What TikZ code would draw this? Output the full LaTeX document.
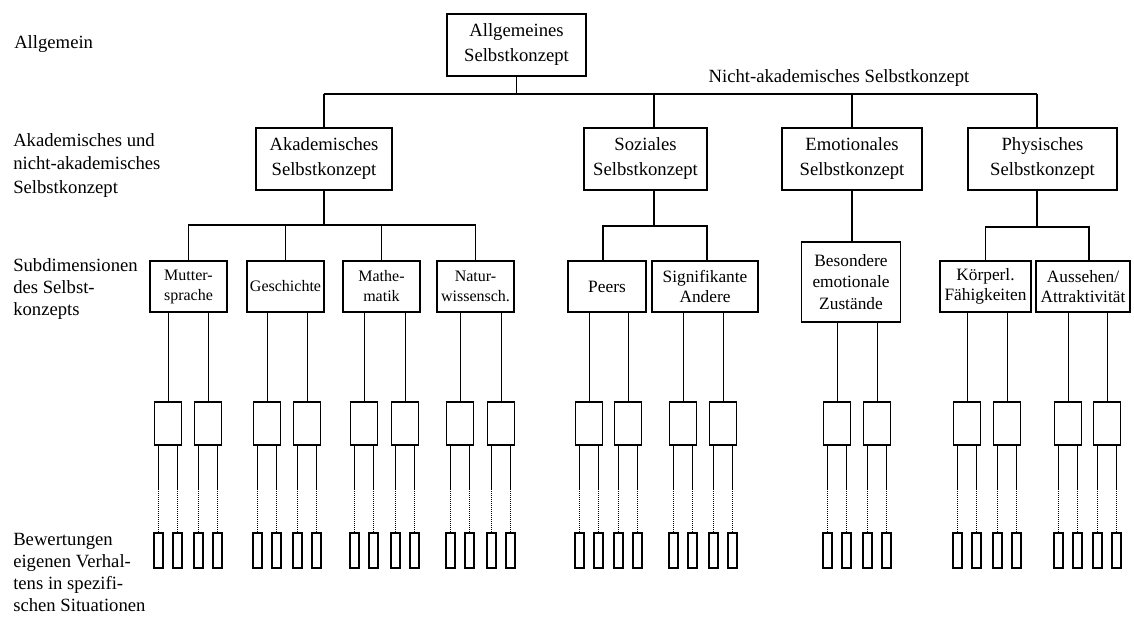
\documentclass[tikz,border=0pt]{standalone}
\usepackage{fontspec}
\setmainfont{Liberation Serif}
\begin{document}
\begin{tikzpicture}[x=0.75pt,y=-0.75pt,
  box/.style={draw,line width=1pt,inner sep=0pt,align=center,font=\fontsize{14}{18.75}\selectfont},
  topbox/.style={box,minimum height=46.5pt},
  subA/.style={box,minimum height=38.25pt,minimum width=57.75pt,font=\fontsize{12}{15}\selectfont},
  subB/.style={box,minimum height=38.25pt,font=\fontsize{13}{15.5}\selectfont},
  lab/.style={anchor=west,align=left,inner sep=0pt},
  tree/.style={line width=1pt},
  midbox/.style={draw,line width=0.9pt,inner sep=0pt,minimum width=20.25pt,minimum height=32.25pt},
  leaf/.style={draw,line width=0.8pt,inner sep=0pt,minimum width=6.75pt,minimum height=26.25pt},
  thinl/.style={line width=0.75pt},
  dots/.style={line width=0.5pt,densely dotted}]
\useasboundingbox (0,0) rectangle (1134,619);

% left labels
\node[lab,font=\fontsize{14}{17.6}\selectfont] (lA) at (14,44) {Allgemein};
\node[lab,font=\fontsize{14}{17.6}\selectfont] (lB) at (13,165.5) {Akademisches und\\nicht-akademisches\\Selbstkonzept};
\node[lab,font=\fontsize{14}{16.5}\selectfont] (lC) at (13,289) {Subdimensionen\\des Selbst-\\konzepts};
\node[lab,font=\fontsize{14}{16.3}\selectfont] (lD) at (13,572.5) {Bewertungen\\eigenen Verhal-\\tens in spezifi-\\schen Situationen};

% top
\node[topbox,minimum width=104.25pt] (top) at (516.5,45) {Allgemeines\\Selbstkonzept};
\node[inner sep=0pt,font=\fontsize{14}{17}\selectfont] (nak) at (839,78) {Nicht-akademisches Selbstkonzept};

% level 2
\node[topbox,minimum width=102pt] (akad) at (324,159) {Akademisches\\Selbstkonzept};
\node[topbox,minimum width=92.25pt] (soz) at (645.5,159) {Soziales\\Selbstkonzept};
\node[topbox,minimum width=105pt] (emo) at (852,159) {Emotionales\\Selbstkonzept};
\node[topbox,minimum width=111.75pt] (phys) at (1042.5,159) {Physisches\\Selbstkonzept};

\coordinate (jA) at (324,94);
\coordinate (jS) at (654,94);
\coordinate (jE) at (852,94);
\coordinate (jP) at (1037,94);
\draw[tree] (top.south) -- (top.south |- jA);
\draw[tree] (jA) -- (jP);
\draw[tree] (jA) -- (jA |- akad.north);
\draw[tree] (jS) -- (jS |- soz.north);
\draw[tree] (jE) -- (jE |- emo.north);
\draw[tree] (jP) -- (jP |- phys.north);

% level 3
\node[subA] (mut) at (188.5,286.5) {Mutter-\\sprache};
\node[subA] (ges) at (285.5,286.5) {Geschichte};
\node[subA] (mat) at (381.5,286.5) {Mathe-\\matik};
\node[subA] (nat) at (475.5,286.5) {Natur-\\wissensch.};
\node[subB,minimum width=58.5pt] (pee) at (607,286.5) {Peers};
\node[subB,minimum width=79.5pt] (sig) at (705,286.5) {Signifikante\\Andere};
\node[subB,minimum width=74.25pt,minimum height=60pt,font=\fontsize{13}{16.1}\selectfont] (bes) at (851,282) {Besondere\\emotionale\\Zustände};
\node[subB,minimum width=68.25pt] (koe) at (985.5,286.5) {Körperl.\\Fähigkeiten};
\node[subB,minimum width=70.5pt] (aus) at (1083,286.5) {Aussehen/\\Attraktivität};

\coordinate (bA) at (324,225);
\coordinate (bS) at (654,226);
\coordinate (bP) at (1037,227);
\draw[tree] (akad.south) -- (bA);
\draw[tree] (mut.north) |- (bA) -| (nat.north);
\draw[tree] (ges.north) -- (ges.north |- bA);
\draw[tree] (mat.north) -- (mat.north |- bA);
\draw[tree] (soz.south -| bS) -- (bS);
\draw[tree] ([xshift=-3pt]pee.north) |- (bS) -| ([xshift=1.5pt]sig.north);
\draw[tree] (emo.south) -- (emo.south |- bes.north);
\draw[tree] (phys.south -| bP) -- (bP);
\draw[tree] (koe.north) |- (bP) -| ([xshift=4.5pt]aus.north);

% level 4
\foreach \x/\p [count=\i] in {168/mut,208/mut,267/ges,307/ges,364/mat,405/mat,460/nat,501/nat,589/pee,628/pee,683/sig,723/sig,837/bes,877/bes,967/koe,1007/koe,1068/aus,1107/aus}{
  \node[midbox] (m\i) at (\x,423.5) {};
  \draw[thinl] (m\i.north) -- (m\i.north |- \p.south);
  \node[leaf] (la\i) at ({\x-9.5},550.5) {};
  \node[leaf] (lb\i) at ({\x+9.5},550.5) {};
  \coordinate (da\i) at ({\x-9.5},489);
  \coordinate (db\i) at ({\x+9.5},489);
  \draw[thinl] (m\i.south -| la\i) -- (da\i);
  \draw[thinl] (m\i.south -| lb\i) -- (db\i);
  \draw[dots] (da\i) -- (la\i.north);
  \draw[dots] (db\i) -- (lb\i.north);
}
\end{tikzpicture}
\end{document}
